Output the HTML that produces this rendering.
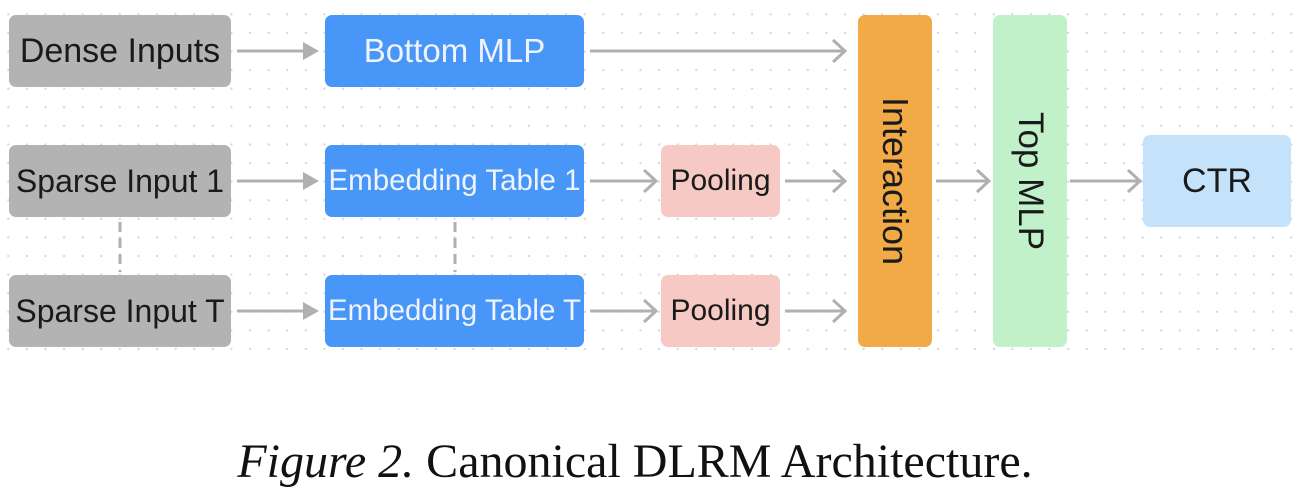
<!DOCTYPE html>
<html><head><meta charset="utf-8"><style>
body{margin:0;width:1302px;height:498px;background:#fff;position:relative;overflow:hidden;font-family:"Liberation Sans",sans-serif}
.grid{position:absolute;left:0;top:0;width:1302px;height:352px;background-image:radial-gradient(circle,#d6d6d6 1px,transparent 1.3px);background-size:18.6px 18.6px;background-position:-1px 5px}
.b{position:absolute;border-radius:7px;display:flex;align-items:center;justify-content:center;font-size:34px;white-space:nowrap;color:#1a1a1a}
.b span{display:block}
.g{background:#b3b3b3}
.bl{background:#4896f7;color:#f0f4fa}
.p{background:#f6c9c4}
.v span{transform:rotate(90deg)}
svg{position:absolute;left:0;top:0}
.cap{position:absolute;top:434px;left:-16px;width:1302px;text-align:center;font-family:"Liberation Serif",serif;font-size:48px;color:#111}
</style></head><body>
<div class="grid"></div>
<svg width="1302" height="498">
<g stroke="#b0b0b0" stroke-width="3" fill="none">
<line x1="237" y1="51" x2="305" y2="51"/>
<line x1="237" y1="181" x2="305" y2="181"/>
<line x1="237" y1="311" x2="305" y2="311"/>
<line x1="590" y1="51" x2="844" y2="51"/><polyline points="833,40 845,51 833,62"/>
<line x1="590" y1="181" x2="655" y2="181"/><polyline points="644,170 656,181 644,192"/>
<line x1="590" y1="311" x2="655" y2="311"/><polyline points="644,300 656,311 644,322"/>
<line x1="785" y1="181" x2="844" y2="181"/><polyline points="833,170 845,181 833,192"/>
<line x1="785" y1="311" x2="844" y2="311"/><polyline points="833,300 845,311 833,322"/>
<line x1="936" y1="181" x2="988" y2="181"/><polyline points="977,170 989,181 977,192"/>
<line x1="1070" y1="181" x2="1139" y2="181"/><polyline points="1128,170 1140,181 1128,192"/>
<line x1="120" y1="222" x2="120" y2="272" stroke-dasharray="10,6"/>
<line x1="455" y1="222" x2="455" y2="272" stroke-dasharray="10,6"/>
</g>
<g fill="#b0b0b0">
<polygon points="303,42 319,51 303,60"/>
<polygon points="303,172 319,181 303,190"/>
<polygon points="303,302 319,311 303,320"/>
</g>
</svg>
<div class="b g" style="left:9px;top:15px;width:222px;height:72px"><span>Dense Inputs</span></div>
<div class="b g" style="left:9px;top:145px;width:222px;height:72px;font-size:32px"><span>Sparse Input 1</span></div>
<div class="b g" style="left:9px;top:275px;width:222px;height:72px;font-size:32px"><span>Sparse Input T</span></div>
<div class="b bl" style="left:325px;top:15px;width:259px;height:72px;font-size:33px"><span>Bottom MLP</span></div>
<div class="b bl" style="left:325px;top:145px;width:259px;height:72px;font-size:29.5px"><span>Embedding Table 1</span></div>
<div class="b bl" style="left:325px;top:275px;width:259px;height:72px;font-size:29.5px"><span>Embedding Table T</span></div>
<div class="b p" style="left:661px;top:145px;width:119px;height:72px;font-size:30px"><span>Pooling</span></div>
<div class="b p" style="left:661px;top:275px;width:119px;height:72px;font-size:30px"><span>Pooling</span></div>
<div class="b v" style="left:858px;top:15px;width:74px;height:332px;background:#f1aa45;font-size:36px"><span>Interaction</span></div>
<div class="b v" style="left:993px;top:15px;width:74px;height:332px;background:#c0f1c8;font-size:35px"><span>Top MLP</span></div>
<div class="b" style="left:1143px;top:135px;width:148px;height:92px;background:#c5e2fb;font-size:34px"><span>CTR</span></div>
<div class="cap"><i>Figure 2.</i> Canonical DLRM Architecture.</div>
</body></html>
